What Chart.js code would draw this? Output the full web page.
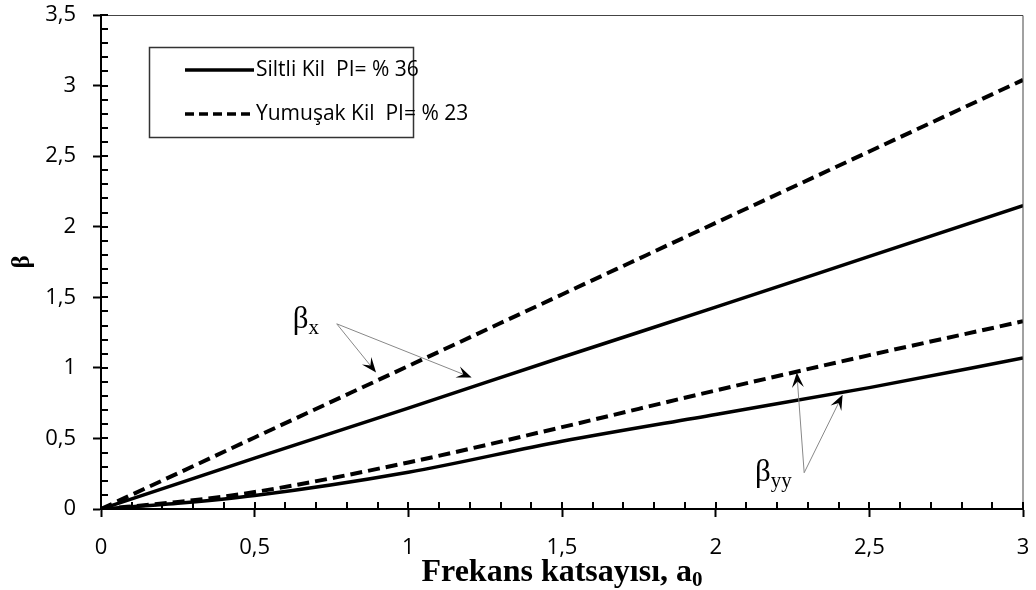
<!DOCTYPE html>
<html>
<head>
<meta charset="utf-8">
<script src="https://cdn.jsdelivr.net/npm/chart.js@4"></script>
<style>
  html, body { margin: 0; padding: 0; background: #fff; }
  #wrap { width: 1036px; height: 590px; }
</style>
</head>
<body>
<div id="wrap"><canvas id="betaChart" width="1036" height="590"></canvas></div>
<script>
// frequency coefficient a0 and damping values
const a0 = [0, 0.25, 0.5, 1, 1.5, 2, 2.5, 3];
const siltliBx = [0, 0.18, 0.36, 0.715, 1.075, 1.43, 1.79, 2.15];
const yumusakBx = [0, 0.253, 0.507, 1.013, 1.52, 2.027, 2.533, 3.04];
const siltliByy = [0, 0.04, 0.095, 0.26, 0.48, 0.67, 0.86, 1.07];
const yumusakByy = [0, 0.05, 0.12, 0.33, 0.58, 0.84, 1.09, 1.33];

const legendLabels = ["Siltli Kil  PI= % 36", "Yumuşak Kil  PI= % 23"];
const xTickValues = [0, 0.5, 1, 1.5, 2, 2.5, 3];
const yTickValues = [0, 0.5, 1, 1.5, 2, 2.5, 3, 3.5];

// annotation anchors in data units
const notes = [
  { sub: "x", at: [0.624, 1.283], from: [0.767, 1.312], tips: [[0.895, 0.967], [1.206, 0.931]] },
  { sub: "yy", at: [2.128, 0.198], from: [2.288, 0.257], tips: [[2.264, 0.967], [2.413, 0.809]] }
];

const toPoints = (ys) => a0.map((x, i) => ({ x: x, y: ys[i] }));
const DASH = [12, 6];
const tickFmt = (v) => String(v).replace(".", ",");

const lineStyle = (dashed) => ({
  borderColor: "#000",
  borderWidth: dashed ? 4 : 3.5,
  borderDash: dashed ? DASH : [],
  pointRadius: 0,
  fill: false,
  cubicInterpolationMode: "monotone"
});

const decor = {
  id: "decor",
  afterDraw(chart) {
    const { ctx, chartArea: a, scales: { x, y } } = chart;
    ctx.save();

    // top / right frame
    ctx.strokeStyle = "#444";
    ctx.lineWidth = 1;
    ctx.beginPath();
    ctx.moveTo(a.left, a.top + 0.5);
    ctx.lineTo(a.right, a.top + 0.5);
    ctx.lineTo(a.right, a.bottom);
    ctx.stroke();

    // inner minor/major ticks
    ctx.strokeStyle = "#000";
    ctx.lineWidth = 2;
    ctx.beginPath();
    for (let i = 1; i <= 35; i++) {
      const py = Math.round(y.getPixelForValue(i / 10));
      ctx.moveTo(a.left, py);
      ctx.lineTo(a.left + 7, py);
    }
    for (let i = 1; i <= 30; i++) {
      const px = Math.round(x.getPixelForValue(i / 10));
      ctx.moveTo(px, a.bottom);
      ctx.lineTo(px, a.bottom - 7);
    }
    ctx.stroke();

    // axis titles
    ctx.fillStyle = "#000";
    ctx.textBaseline = "alphabetic";
    const t1 = "Frekans katsayısı, a";
    ctx.font = "bold 32px 'Liberation Serif'";
    const w1 = ctx.measureText(t1).width;
    ctx.font = "bold 21px 'Liberation Serif'";
    const w2 = ctx.measureText("0").width;
    const startX = (a.left + a.right) / 2 - (w1 + w2) / 2;
    ctx.textAlign = "left";
    ctx.font = "bold 32px 'Liberation Serif'";
    ctx.fillText(t1, startX, 581);
    ctx.font = "bold 21px 'Liberation Serif'";
    ctx.fillText("0", startX + w1, 586);

    ctx.save();
    ctx.translate(23, (a.top + a.bottom) / 2);
    ctx.rotate(-Math.PI / 2);
    ctx.font = "bold 25px 'Liberation Serif'";
    ctx.textAlign = "center";
    ctx.textBaseline = "middle";
    ctx.fillText("β", 0, 0);
    ctx.restore();

    // legend box
    const lx = 149, ly = 47, lw = 264, lh = 90;
    ctx.strokeStyle = "#333";
    ctx.lineWidth = 1.5;
    ctx.strokeRect(lx + 0.5, ly + 0.5, lw, lh);
    ctx.font = "21px 'Open Sans'";
    ctx.textBaseline = "middle";
    ctx.textAlign = "left";
    legendLabels.forEach((lab, i) => {
      const ry = ly + 23 + i * 44;
      ctx.beginPath();
      ctx.strokeStyle = "#000";
      ctx.lineWidth = 3.5;
      ctx.setLineDash(i === 1 ? [9, 5] : []);
      ctx.moveTo(185, ry);
      ctx.lineTo(254, ry);
      ctx.stroke();
      ctx.setLineDash([]);
      ctx.fillText(lab, 256, ry);
    });

    // beta annotations with arrows
    notes.forEach((n) => {
      const fx = x.getPixelForValue(n.from[0]);
      const fy = y.getPixelForValue(n.from[1]);
      n.tips.forEach((t) => {
        const tx = x.getPixelForValue(t[0]);
        const ty = y.getPixelForValue(t[1]);
        const len = Math.hypot(tx - fx, ty - fy);
        const dx = (tx - fx) / len, dy = (ty - fy) / len;
        const L = 15, W = 6;
        ctx.strokeStyle = "#888";
        ctx.lineWidth = 1;
        ctx.beginPath();
        ctx.moveTo(fx, fy);
        ctx.lineTo(tx - dx * L * 0.6, ty - dy * L * 0.6);
        ctx.stroke();
        ctx.fillStyle = "#000";
        ctx.beginPath();
        ctx.moveTo(tx, ty);
        ctx.lineTo(tx - dx * L - dy * W, ty - dy * L + dx * W);
        ctx.lineTo(tx - dx * L * 0.6, ty - dy * L * 0.6);
        ctx.lineTo(tx - dx * L + dy * W, ty - dy * L - dx * W);
        ctx.closePath();
        ctx.fill();
      });
      const bx = x.getPixelForValue(n.at[0]);
      const by = y.getPixelForValue(n.at[1]);
      ctx.fillStyle = "#000";
      ctx.textAlign = "left";
      ctx.textBaseline = "alphabetic";
      ctx.font = "31px 'Liberation Serif'";
      ctx.fillText("β", bx, by);
      const bw = ctx.measureText("β").width;
      ctx.font = "21px 'Liberation Serif'";
      ctx.fillText(n.sub, bx + bw, by + 6);
    });

    ctx.restore();
  }
};

new Chart(document.getElementById("betaChart"), {
  type: "line",
  data: {
    datasets: [
      { label: legendLabels[0], data: toPoints(siltliBx), ...lineStyle(false) },
      { label: legendLabels[1], data: toPoints(yumusakBx), ...lineStyle(true) },
      { label: legendLabels[0], data: toPoints(siltliByy), ...lineStyle(false) },
      { label: legendLabels[1], data: toPoints(yumusakByy), ...lineStyle(true) }
    ]
  },
  options: {
    responsive: false,
    animation: false,
    layout: { padding: 0 },
    plugins: { legend: { display: false }, tooltip: { enabled: false } },
    scales: {
      x: {
        type: "linear",
        min: 0,
        max: 3,
        afterFit(s) { s.height = 81; s.paddingRight = 13; s.paddingLeft = 0; },
        afterBuildTicks(s) { s.ticks = xTickValues.map((v) => ({ value: v })); },
        border: { display: true, color: "#000", width: 2 },
        grid: { drawOnChartArea: false, tickLength: 8, tickColor: "#000", tickWidth: 2 },
        ticks: {
          color: "#000",
          padding: 18,
          maxRotation: 0,
          font: { family: "Open Sans", size: 22 },
          callback: tickFmt
        }
      },
      y: {
        min: 0,
        max: 3.5,
        afterFit(s) { s.width = 101; s.paddingTop = 15; s.paddingBottom = 0; },
        afterBuildTicks(s) { s.ticks = yTickValues.map((v) => ({ value: v })); },
        border: { display: true, color: "#000", width: 2 },
        grid: { drawOnChartArea: false, tickLength: 8, tickColor: "#000", tickWidth: 2 },
        ticks: {
          color: "#000",
          padding: 17,
          font: { family: "Open Sans", size: 22 },
          callback: tickFmt
        }
      }
    }
  },
  plugins: [decor]
});
</script>
</body>
</html>
